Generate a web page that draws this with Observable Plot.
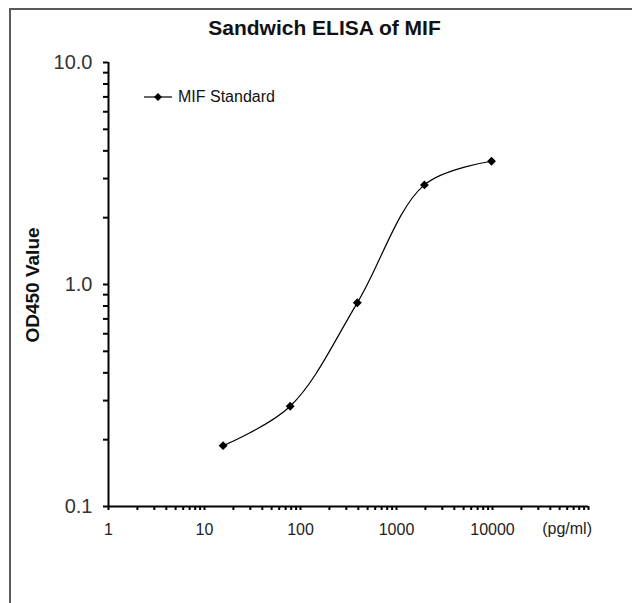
<!DOCTYPE html>
<html><head><meta charset="utf-8">
<script src="https://cdn.jsdelivr.net/npm/d3@7"></script>
<script src="https://cdn.jsdelivr.net/npm/@observablehq/plot@0.6"></script>
<style>
body{margin:0;background:#fff;}
#wrap{position:relative;width:632px;height:603px;overflow:hidden;font-family:Arial,"Liberation Sans",sans-serif;}
#frame{position:absolute;left:9px;top:8px;width:800px;height:800px;border-top:2px solid #5a5a5a;border-left:2px solid #5a5a5a;}
#title{position:absolute;left:0;width:649px;top:16px;line-height:24px;text-align:center;font-weight:bold;font-size:21px;color:#111;}
#ylab{position:absolute;left:33px;top:285px;transform:translate(-50%,-50%) rotate(-90deg);font-weight:bold;font-size:19px;white-space:nowrap;color:#111;}
#legend{position:absolute;left:144px;top:88px;display:flex;align-items:center;font-size:16px;color:#111;}
#legend svg{margin-right:6px;}
#unit{position:absolute;right:40px;top:520px;font-size:16px;line-height:18px;color:#222;}
#chart{position:absolute;left:0;top:0;}
</style>
</head><body>
<div id="wrap">
  <div id="frame"></div>
  <div id="chart"></div>
  <div id="title">Sandwich ELISA of MIF</div>
  <div id="ylab">OD450 Value</div>
  <div id="legend"><svg width="28" height="12"><line x1="0" y1="6" x2="28" y2="6" stroke="#000" stroke-width="1.2"/><path d="M14,2 L18,6 L14,10 L10,6 Z" fill="#000"/></svg><span id="legendText"></span></div>
  <div id="unit"></div>
</div>
<script>
// Data
const concentrations = [15.625, 78.125, 390.625, 1953.125, 9765.625];
const odValues = [0.188, 0.283, 0.827, 2.81, 3.59];
const seriesName = "MIF Standard";
const xMajorTicks = [1, 10, 100, 1000, 10000, 100000];
const xTickLabels = ["1", "10", "100", "1000", "10000", ""];
const yMajorTicks = [0.1, 1, 10];
const yTickLabels = ["0.1", "1.0", "10.0"];
const xUnit = "(pg/ml)";

document.getElementById("legendText").textContent = seriesName;
document.getElementById("unit").textContent = xUnit;

const table = concentrations.map((c, i) => ({conc: c, od: odValues[i], series: seriesName}));

function minorTicks(majors) {
  const out = [];
  for (let i = 0; i < majors.length; i++) {
    out.push(majors[i]);
    if (i < majors.length - 1) for (let k = 2; k <= 9; k++) out.push(+(majors[i] * k).toPrecision(6));
  }
  return out;
}
const xAll = minorTicks(xMajorTicks);
const yAll = minorTicks(yMajorTicks);
const xLab = new Map(xMajorTicks.map((t, i) => [t, xTickLabels[i]]));
const yLab = new Map(yMajorTicks.map((t, i) => [t, yTickLabels[i]]));

const chart = Plot.plot({
  width: 632,
  height: 603,
  marginLeft: 108,
  marginRight: 44,
  marginTop: 62,
  marginBottom: 97,
  style: {background: "transparent", fontFamily: "Arial, 'Liberation Sans', sans-serif", overflow: "visible"},
  x: {type: "log", domain: [1, 100000], label: null},
  y: {type: "log", domain: [0.1, 10], label: null},
  marks: [
    Plot.axisX({ticks: xAll, tickSize: 4, tickPadding: 13, strokeWidth: 2, stroke: "#000",
      tickFormat: d => xLab.has(d) ? xLab.get(d) : "", fontSize: 16, fill: "#222", label: null}),
    Plot.axisY({ticks: yAll, tickSize: 5, tickPadding: 11, strokeWidth: 2, stroke: "#000",
      tickFormat: d => yLab.has(d) ? yLab.get(d) : "", fontSize: 20, fill: "#333", label: null}),
    Plot.ruleX([xMajorTicks[0]], {stroke: "#000", strokeWidth: 2}),
    Plot.ruleY([yMajorTicks[0]], {stroke: "#000", strokeWidth: 2}),
    Plot.line(table, {x: "conc", y: "od", curve: "catmull-rom", stroke: "#000", strokeWidth: 1.2}),
    Plot.dot(table, {x: "conc", y: "od", symbol: "diamond2", r: 4, fill: "#000", stroke: "none"})
  ]
});
document.getElementById("chart").appendChild(chart);
</script>
</body></html>
